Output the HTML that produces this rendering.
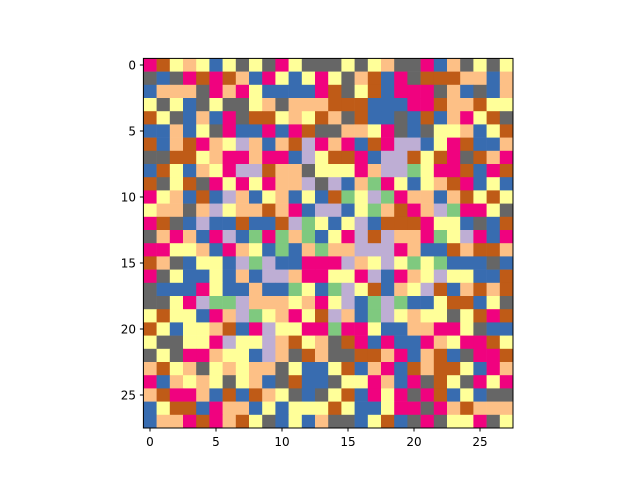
<!DOCTYPE html>
<html><head><meta charset="utf-8"><style>
html,body{margin:0;padding:0;background:#fff;}
svg text{font-family:"DejaVu Sans","Liberation Sans",sans-serif;font-size:12px;fill:#000;}
</style></head><body>
<svg id="chart" width="640" height="480" viewBox="0 0 640 480" xmlns="http://www.w3.org/2000/svg">
<g id="cells"></g>
<rect x="143.4" y="58.4" width="369.6" height="369.6" fill="none" stroke="#000" stroke-width="1"/>
<g id="ticks"></g>
</svg>
<script>
const categories = ["N","L","O","Y","B","P","R","G"];
const palette = ["#7fc97f","#beaed4","#fdc086","#ffff99","#386cb0","#f0027f","#bf5b17","#666666"];
const rows = [
"PRYOYBYGYGPYGGGYGYOGGPBOGYGY",
"GBGPRPROBPYBYPYGORBPGRRROOBO",
"BOOOGPOPYBBBBPRGYRBPPPGOBGBO",
"YGYBGYGGYOGOOORRRBBBPPROORYY",
"RYGBOBPGRRYOYROGRBBGBRBOPYRG",
"BBOBYGPBBPBPRGGOOYPGBGYYOBYR",
"RBORPOYLOBORLPOPBRPLLBYPRBBO",
"GGRRYOPPOPPBLYRRPBLLRYRPGROP",
"BRYBOYPLLROOGYYYPOLLNYPPRBPR",
"RGYRGPYPYPOOLGLBONPYBYORPBYB",
"PYOBRBLOBYOBYBRNYLNPOOBORYRY",
"YOOGOLYOOROPBLLBYNORPOLNPPYG",
"PRGBLBBRBBRLNYBYLBRRRPYYBGBR",
"GOPOBPLBNPNONBYPLRLOOPNYLPBP",
"PPYYOBPOYBNBONOOLLLPOBBRORRO",
"ROGBYYBLNLBBPPPLOYLYNYNBBBGB",
"PGYBBYBOBLLOPPYYPLBPOYLYYBBR",
"GBBBPYBBOBBNYBNLYRBOYLRBORORP".slice(0,28),
"GGYPLNNLOOOYOPYLBNLNBBYRRBYG",
"YRYYBPOLNYOPYRLOBNLYOYYGYRPR",
"RYBYYORBPLYYPPNPPYBBOOPPYGBB",
"YGGYYPLYYLORYOGRPBPBBPOYPPRY",
"GYGPPOYYBLOGROGGRROPBORBGPPR",
"ORYOGYOYOOGYBBYRBOPBRORRYBPO",
"PBOYOYGYOBGRBBGYYPOBPGRYGPYP",
"ORPPOBRBROYGBGYRBPYPGPRBYBGG",
"BYRRBPOOBYBYYYRYBBYPPGPOROOO",
"BOOPRPORYGBYBOGGBYRBGPGYYPGY"
];
const xTickLabels = [0,5,10,15,20,25];
const yTickLabels = [0,5,10,15,20,25];

const x0 = 143.4, y0 = 58.4, cell = 13.2;
const xScale = c => x0 + c * cell;
const yScale = r => y0 + r * cell;
const NS = "http://www.w3.org/2000/svg";
const cellsG = document.getElementById("cells");
rows.forEach((row, r) => {
  for (let c = 0; c < row.length; c++) {
    const idx = categories.indexOf(row[c]);
    const rect = document.createElementNS(NS, "rect");
    rect.setAttribute("x", xScale(c));
    rect.setAttribute("y", yScale(r));
    rect.setAttribute("width", cell + 0.3);
    rect.setAttribute("height", cell + 0.3);
    rect.setAttribute("fill", palette[idx]);
    
    
    cellsG.appendChild(rect);
  }
});
const ticksG = document.getElementById("ticks");
xTickLabels.forEach(v => {
  const x = xScale(v + 0.5);
  const l = document.createElementNS(NS, "line");
  l.setAttribute("x1", x); l.setAttribute("x2", x);
  l.setAttribute("y1", 428); l.setAttribute("y2", 431.5);
  l.setAttribute("stroke", "#000");
  
  
  ticksG.appendChild(l);
  const t = document.createElementNS(NS, "text");
  t.setAttribute("x", x); t.setAttribute("y", 446);
  t.setAttribute("text-anchor", "middle");
  t.textContent = v;
  
  
  ticksG.appendChild(t);
});
yTickLabels.forEach(v => {
  const y = yScale(v + 0.5);
  const l = document.createElementNS(NS, "line");
  l.setAttribute("x1", 139.9); l.setAttribute("x2", 143.4);
  l.setAttribute("y1", y); l.setAttribute("y2", y);
  l.setAttribute("stroke", "#000");
  
  
  ticksG.appendChild(l);
  const t = document.createElementNS(NS, "text");
  t.setAttribute("x", 136); t.setAttribute("y", y + 4.5);
  t.setAttribute("text-anchor", "end");
  t.textContent = v;
  
  
  ticksG.appendChild(t);
});
</script>
</body></html>
